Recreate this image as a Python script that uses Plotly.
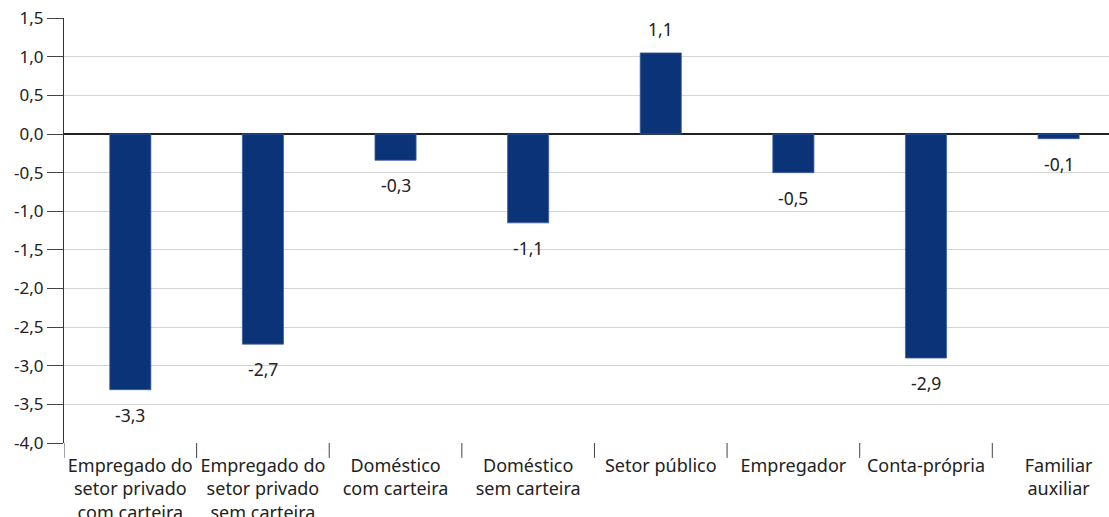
import plotly.graph_objects as go

categories = [
    "Empregado do<br>setor privado<br>com carteira",
    "Empregado do<br>setor privado<br>sem carteira",
    "Doméstico<br>com carteira",
    "Doméstico<br>sem carteira",
    "Setor público",
    "Empregador",
    "Conta-própria",
    "Familiar<br>auxiliar",
]
values = [-3.31, -2.72, -0.34, -1.15, 1.05, -0.50, -2.90, -0.06]
labels = ["-3,3", "-2,7", "-0,3", "-1,1", "1,1", "-0,5", "-2,9", "-0,1"]
y_ticks = [1.5, 1.0, 0.5, 0.0, -0.5, -1.0, -1.5, -2.0, -2.5, -3.0, -3.5, -4.0]

FONT = "Noto Sans"
BAR = "#0a3378"

fig = go.Figure()
fig.add_trace(go.Bar(
    x=list(range(len(categories))),
    y=values,
    width=0.31,
    marker=dict(color=BAR, line=dict(color="#3d5f9e", width=0.8)),
    hoverinfo="skip",
))

for i, (v, t) in enumerate(zip(values, labels)):
    fig.add_annotation(
        x=i, y=v, text=t, showarrow=False,
        yanchor="bottom" if v >= 0 else "top",
        yshift=10 if v >= 0 else -11,
        font=dict(family=FONT, size=17.5, color="#222"),
    )

fig.update_layout(
    width=1109, height=517,
    margin=dict(l=64, r=0, t=18, b=74, autoexpand=False),
    plot_bgcolor="white", paper_bgcolor="white",
    separators=",.",
    showlegend=False,
    font=dict(family=FONT, size=17.5, color="#222"),
    xaxis=dict(
        tickmode="array",
        tickvals=list(range(len(categories))),
        ticktext=categories,
        range=[-0.5, 7.38],
        showgrid=False, zeroline=False, showline=False,
        ticks="",
        ticklabelstandoff=10,
        ticklabeloverflow="allow",
        automargin=False,
        tickfont=dict(size=18),
        fixedrange=True,
    ),
    yaxis=dict(
        range=[-4.0, 1.502],
        tickmode="array",
        tickvals=y_ticks,
        ticktext=[f"{v:.1f}".replace(".", ",") for v in y_ticks],
        showgrid=True, gridcolor="#d4d4d4", gridwidth=1,
        zeroline=True, zerolinecolor="#222", zerolinewidth=1.5,
        showline=True, linecolor="#333", linewidth=1,
        ticks="outside", ticklen=16, tickcolor="#444", tickwidth=1,
        ticklabeloverflow="allow",
        automargin=False,
        tickfont=dict(size=17),
        fixedrange=True,
    ),
)

for b in [k + 0.5 for k in range(-1, len(categories) - 1)]:
    fig.add_shape(type="line", xref="x", yref="paper", x0=b, x1=b, y0=0, y1=-0.035,
                  line=dict(color="#444", width=1))

fig.write_html(
    "out.html",
    config={"displayModeBar": False, "staticPlot": True},
    post_script="document.body.style.margin='0px';document.body.style.overflow='hidden';",
)
